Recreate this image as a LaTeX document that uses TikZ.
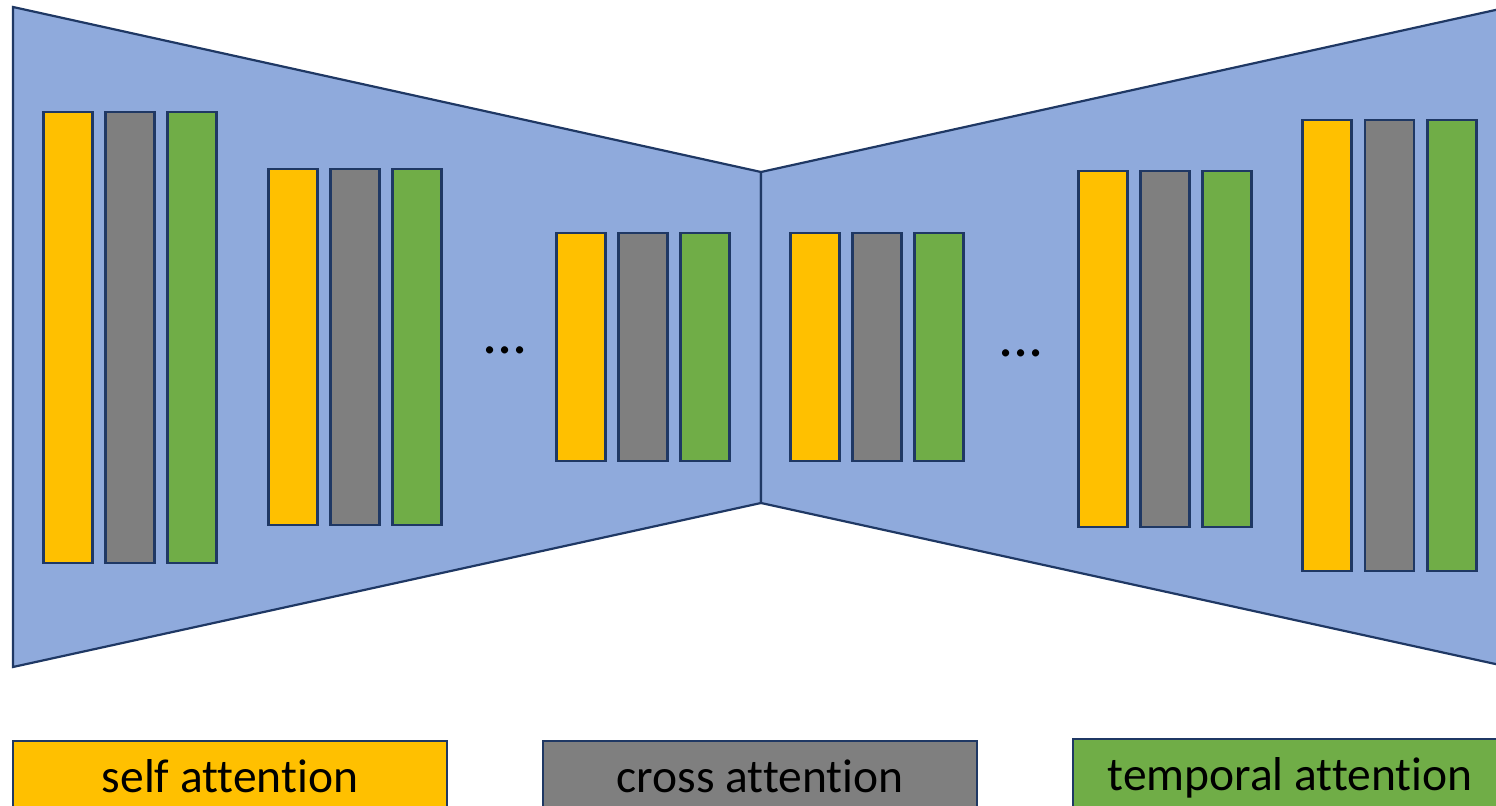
\documentclass[tikz,border=0pt]{standalone}
\usepackage{fontspec}
\setmainfont{Carlito}[Ligatures=NoCommon]
\definecolor{bodyc}{HTML}{8FAADC}
\definecolor{edgec}{HTML}{1F3864}
\definecolor{selfc}{HTML}{FFC000}
\definecolor{crossc}{HTML}{7F7F7F}
\definecolor{tempc}{HTML}{70AD47}
\tikzset{
  body/.style={draw=edgec, fill=bodyc, line width=1.1pt, line join=miter},
  bar/.style={draw=edgec, line width=1.1pt, rectangle, inner sep=0pt, minimum width=24.5pt},
  legend/.style={draw=edgec, line width=1pt, rectangle, anchor=base, inner xsep=0pt,
    inner ysep=0pt, minimum width=217pt, text height=26pt, text depth=30pt,
    font=\fontsize{23.75pt}{28pt}\selectfont},
  dots/.style={anchor=base, inner sep=0pt, font=\fontsize{30pt}{34pt}\selectfont}
}
% one block of three attention layers: name, left x of first bar, top y, bottom y, gap
\newcommand\bargroup[5]{%
  \node[bar, fill=selfc,  minimum height={(#4-#3)*0.5pt}] (#1s) at ({#2+25},{(#3+#4)/2}) {};
  \node[bar, fill=crossc, minimum height={(#4-#3)*0.5pt}] (#1c) at ({#2+25+#5},{(#3+#4)/2}) {};
  \node[bar, fill=tempc,  minimum height={(#4-#3)*0.5pt}] (#1t) at ({#2+25+2*#5},{(#3+#4)/2}) {};
}
\begin{document}
\begin{tikzpicture}[x=0.5pt, y=-0.5pt]
\useasboundingbox (0,0) rectangle (1496,806);
% encoder and decoder halves
\draw[body] (13,7) -- (761,172) -- (761,503) -- (13,667) -- cycle;
\draw[body] (761,172) -- (1509,7) -- (1509,667) -- (761,503) -- cycle;
% encoder blocks
\bargroup{ea}{43}{112}{563}{62}
\bargroup{eb}{268}{169}{525}{62}
\bargroup{ec}{556}{233}{461}{62}
% decoder blocks
\bargroup{da}{790}{233}{461}{62}
\bargroup{db}{1078}{171}{527}{62}
\bargroup{dc}{1302}{120}{571}{62.5}
% skipped blocks
\node[dots] (edots) at (505,354) {...};
\node[dots] (ddots) at (1021,357) {...};
% legend
\node[legend, fill=selfc]  (lself)  at (230,793) {self attention};
\node[legend, fill=crossc] (lcross) at (760,793) {cross attention};
\node[legend, fill=tempc]  (ltemp)  at (1290,791) {temporal attention};
\end{tikzpicture}
\end{document}
